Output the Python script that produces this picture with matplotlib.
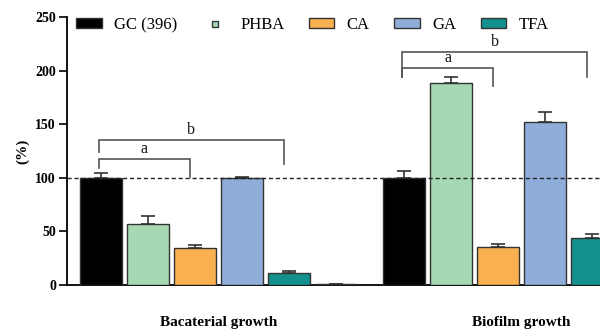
import matplotlib
matplotlib.use("Agg")
from matplotlib import pyplot as plt
from matplotlib.lines import Line2D
from matplotlib.patches import Patch
import numpy as np

plt.rcParams['font.family'] = ['Liberation Serif', 'DejaVu Serif']

groups = ['Bacaterial growth', 'Biofilm growth']
series = ['GC (396)', 'PHBA', 'CA', 'GA', 'TFA', '']
colors = ['#000000', '#a6d9b3', '#f9b050', '#8fadd9', '#13918f', '#dddddd']

# values per series: [bacterial, biofilm]
gc = [100, 100]
phba = [56.6, 188]
ca = [34.8, 35.7]
ga = [99.8, 152.4]
tfa = [11.5, 43.6]
extra = [0.6, 0.6]
values = [gc, phba, ca, ga, tfa, extra]

gc_err = [4.6, 6.6]
phba_err = [8, 6.3]
ca_err = [2.8, 2.5]
ga_err = [1, 9]
tfa_err = [1.8, 4]
extra_err = [0, 0]
errors = [gc_err, phba_err, ca_err, ga_err, tfa_err, extra_err]

group_step = 6.45
width = 0.9

fig = plt.figure(figsize=(6, 3.31), dpi=100)
ax = fig.add_axes([67 / 600, 46 / 331, 533 / 600, 268 / 331])

for i, (vals, errs, col) in enumerate(zip(values, errors, colors)):
    xs = np.arange(len(groups)) * group_step + i
    ax.bar(xs, vals, width=width, color=col, edgecolor='#333333', linewidth=1.0, zorder=3)
    ax.errorbar(xs, vals, yerr=[np.zeros(len(errs)), errs], fmt='none',
                ecolor='#333333', elinewidth=1.2, capsize=5, capthick=1.2, zorder=2)

ax.axhline(100, color='#222222', linestyle='--', dashes=(3, 2), linewidth=1.0, zorder=4)

# significance brackets: (group, from series, to series, top, left foot, right foot, label)
brackets = [
    (0, 0, 2, 117.5, 109, 100.7, 'a'),
    (0, 0, 4, 135, 124, 113, 'b'),
    (1, 0, 2, 202, 194, 186, 'a'),
    (1, 0, 4, 217, 194, 194, 'b'),
]
for g, s0, s1, top, yl, yr, lab in brackets:
    x0 = g * group_step + s0 - 0.05
    x1 = g * group_step + s1 - 0.1
    ax.plot([x0, x0, x1, x1], [yl, top, top, yr], color='#555555', linewidth=1.2,
            solid_joinstyle='miter', zorder=5, clip_on=False)
    ax.text((x0 + x1) / 2, top + 2, lab, ha='center', va='bottom', fontsize=11.5, color='#111111')

ax.set_xlim(-0.723, 10.62)
ax.set_ylim(0, 250)
ax.set_yticks([0, 50, 100, 150, 200, 250])
ax.tick_params(axis='y', labelsize=10, length=6, width=1.2, pad=2)
for t in ax.get_yticklabels():
    t.set_fontweight('bold')
ax.set_xticks(np.arange(len(groups)) * group_step + 2.5)
ax.set_xticklabels(groups, fontsize=11, fontweight='bold')
ax.tick_params(axis='x', length=0, pad=22)
ax.set_ylabel('(%)', fontsize=11, fontweight='bold', labelpad=4)

for side in ['top', 'right']:
    ax.spines[side].set_visible(False)
ax.spines['left'].set_linewidth(1.3)
ax.spines['bottom'].set_linewidth(1.3)

handles = [
    Patch(facecolor=colors[0], edgecolor='#333333'),
    Line2D([], [], marker='s', linestyle='none', markersize=5,
           markerfacecolor=colors[1], markeredgecolor='#333333'),
    Patch(facecolor=colors[2], edgecolor='#333333'),
    Patch(facecolor=colors[3], edgecolor='#333333'),
    Patch(facecolor=colors[4], edgecolor='#333333'),
]
fig.legend(handles, series[:5], ncol=5, loc='center left',
           bbox_to_anchor=(76 / 600, 306 / 331), frameon=False, fontsize=12,
           handlelength=1.55, handleheight=0.5, handletextpad=0.75,
           columnspacing=1.45, borderaxespad=0, borderpad=0)

fig.savefig('out.png', dpi=100)
